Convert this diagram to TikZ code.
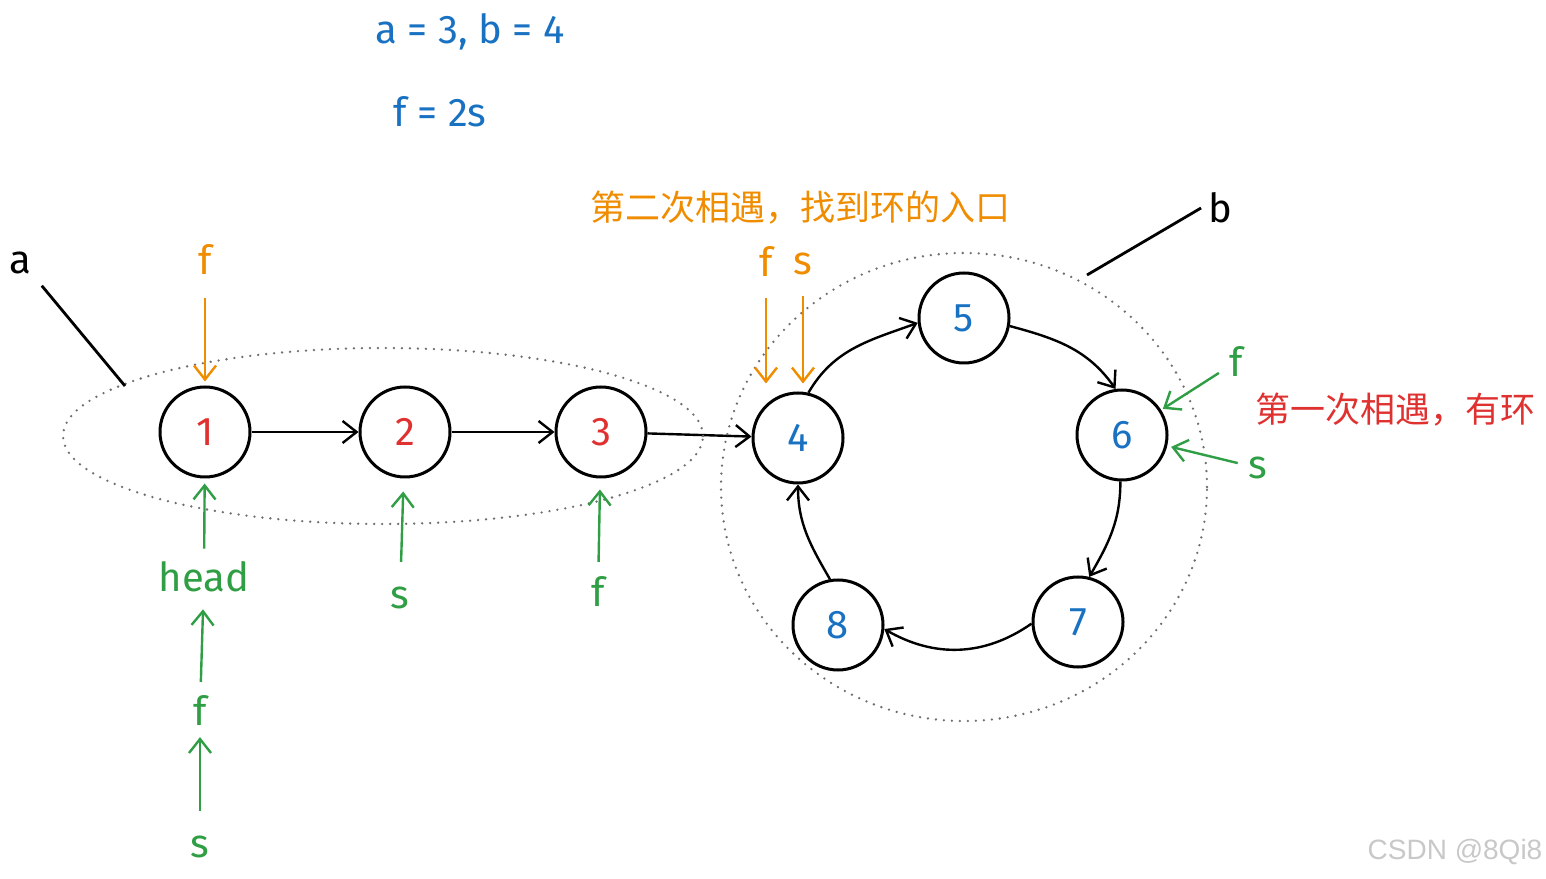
\documentclass[tikz,border=0pt]{standalone}
\usepackage{fontspec}
\setmainfont{Fira Sans}
\newfontfamily\cjk{Noto Sans CJK SC}
\newfontfamily\markfont{Liberation Sans}
\usetikzlibrary{arrows.meta}
\usepackage{xcolor}
\definecolor{inkblue}{HTML}{1971C2}
\definecolor{inkred}{HTML}{E03131}
\definecolor{inkorange}{HTML}{F08C00}
\definecolor{inkgreen}{HTML}{2F9E44}
\definecolor{inkgray}{HTML}{6E6E6E}
\definecolor{markgray}{HTML}{C8C8C8}

\begin{document}
\begin{tikzpicture}[x=0.5pt, y=0.5pt,
  >={Straight Barb[length=7pt,width=11pt]},
  list_node/.style={circle, draw, line width=1.5pt, minimum size=45pt, inner sep=0pt, font=\fontsize{20}{24}\selectfont},
  label_text/.style={font=\fontsize{20}{24}\selectfont},
  note_text/.style={font=\cjk\fontsize{17.5}{21}\selectfont},
  link/.style={->, line width=1.2pt},
  green_arrow/.style={->, line width=1.2pt, inkgreen},
  orange_arrow/.style={->, line width=1.2pt, inkorange},
  pointer/.style={line width=1.4pt},
  dotted_ring/.style={inkgray, line width=1.3pt, line cap=round, dash pattern=on 0pt off 4pt}]
\useasboundingbox (0,0) rectangle (1546,878);

% the list
\node [list_node, text=inkred] (node_one) at (205,446) {1};
\node [list_node, text=inkred] (node_two) at (405,446) {2};
\node [list_node, text=inkred] (node_three) at (601,446) {3};
\node [list_node, text=inkblue] (node_four) at (798,440) {4};
\node [list_node, text=inkblue] (node_five) at (964,560) {5};
\node [list_node, text=inkblue] (node_six) at (1122,443) {6};
\node [list_node, text=inkblue] (node_seven) at (1078,256) {7};
\node [list_node, text=inkblue] (node_eight) at (838,253) {8};

\draw [link] (node_one) -- (node_two);
\draw [link] (node_two) -- (node_three);
\draw [link] (node_three) -- (node_four);
\draw [link] (node_four.77) to [out=60, in=200] (node_five.186);
\draw [link] (node_five.-10) to [out=-15, in=125] (node_six.98);
\draw [link] (node_six.-92) to [out=-90, in=60] (node_seven.76);
\draw [link] (node_seven.182) to [out=215, in=-30] (node_eight.-5);
\draw [link] (node_eight.100) to [out=120, in=-90] (node_four.-90);

% the two parts
\draw [dotted_ring] (383,442) ellipse [x radius=160pt, y radius=44pt];
\draw [dotted_ring] (964,391) ellipse [x radius=121.5pt, y radius=117pt];
\node [label_text] (lbl_a) at (20,615) {a};
\node [label_text] (lbl_b) at (1220,670) {b};
\coordinate (a_tip) at (125,492);
\coordinate (b_tip) at (1087,603);
\draw [pointer, shorten <=3pt] (lbl_a.south east) -- (a_tip);
\draw [pointer] (lbl_b.west) -- (b_tip);

% formulas
\node [label_text, text=inkblue] (eq_ab) at (470,846) {a = 3, b = 4};
\node [label_text, text=inkblue] (eq_fs) at (440,766) {f = 2s};

% start
\node [label_text, text=inkgreen] (head_lbl) at (204,301) {head};
\node [label_text, text=inkgreen] (head_f) at (200,168) {f};
\node [label_text, text=inkgreen] (head_s) at (200,31) {s};
\draw [green_arrow, shorten <=3pt, shorten >=2.5pt] (head_lbl) -- (node_one);
\draw [green_arrow, shorten <=3pt, shorten >=5pt] (head_f) -- (head_lbl);
\draw [green_arrow, shorten <=9pt, shorten >=2.5pt] (head_s) -- (head_f);

% one step
\node [label_text, text=inkgreen] (two_s) at (400,280) {s};
\node [label_text, text=inkgreen] (three_f) at (598,286) {f};
\draw [green_arrow, shorten <=9pt, shorten >=6.5pt] (two_s) -- (node_two);
\draw [green_arrow, shorten <=4pt, shorten >=5.5pt] (three_f) -- (node_three);

% first meeting
\node [label_text, text=inkgreen] (six_f) at (1236,516) {f};
\node [label_text, text=inkgreen] (six_s) at (1258,410) {s};
\draw [green_arrow, shorten <=2pt, shorten >=1pt] (six_f) -- (node_six);
\draw [green_arrow, shorten <=2pt, shorten >=2pt] (six_s) -- (node_six);
\node [note_text, text=inkred] (note_first) at (1395,468) {第一次相遇，有环};

% second meeting
\node [label_text, text=inkorange] (top_f) at (205,618) {f};
\draw [orange_arrow, shorten <=8pt, shorten >=2pt] (top_f) -- (node_one);
\node [label_text, text=inkorange] (meet_f) at (766,616) {f};
\node [label_text, text=inkorange] (meet_s) at (803,614) {s};
\draw [orange_arrow, shorten <=7pt, shorten >=4pt] (meet_f) -- (meet_f |- node_four.north);
\draw [orange_arrow, shorten <=7pt, shorten >=4pt] (meet_s) -- (meet_s |- node_four.north);
\node [note_text, text=inkorange] (note_second) at (800,670) {第二次相遇，找到环的入口};

\node [font=\markfont\fontsize{14}{16}\selectfont, text=markgray] (watermark) at (1455,26) {CSDN @8Qi8};
\end{tikzpicture}
\end{document}
